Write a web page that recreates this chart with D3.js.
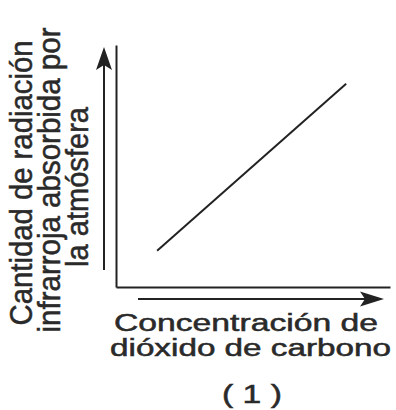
<!DOCTYPE html>
<html>
<head>
<meta charset="utf-8">
<script src="https://cdn.jsdelivr.net/npm/d3@7"></script>
<style>
  body { margin: 0; background: #fff; }
  text { font-family: "Liberation Sans", Arial, sans-serif; fill: #2a2a2a; stroke: #2a2a2a; stroke-width: 0.5; }
</style>
</head>
<body>
<script>
// datos de la grafica
const concentracion = [1.5, 8.4];   // eje x
const radiacion = [1.5, 8.4];       // eje y
const dominioX = [0, 10];
const dominioY = [0, 10];
const etiquetaY = ["Cantidad de radiación", "infrarroja absorbida por", "la atmósfera"];
const etiquetaX = ["Concentración de", "dióxido de carbono"];
const etiquetaPanel = "( 1 )";

const ancho = 396, alto = 410;
const tinta = "#222";

const svg = d3.select("body").append("svg")
    .attr("width", ancho)
    .attr("height", alto)
    .attr("xmlns", "http://www.w3.org/2000/svg");

const x = d3.scaleLinear().domain(dominioX).range([116, 390]);
const y = d3.scaleLinear().domain(dominioY).range([287, 45]);

// ejes sin marcas, solo la linea
svg.append("g")
    .attr("transform", `translate(0,${y(0)})`)
    .call(d3.axisBottom(x).tickValues([]).tickSizeOuter(0));
svg.append("g")
    .attr("transform", `translate(${x(0)},0)`)
    .call(d3.axisLeft(y).tickValues([]).tickSizeOuter(0));
svg.selectAll(".domain").attr("stroke", tinta).attr("stroke-width", 2);

// linea de datos
const puntos = concentracion.map((c, i) => [c, radiacion[i]]);
svg.append("path")
    .datum(puntos)
    .attr("fill", "none")
    .attr("stroke", tinta)
    .attr("stroke-width", 2)
    .attr("d", d3.line().x(d => x(d[0])).y(d => y(d[1])));

// flechas indicadoras
const flechaX = x(0) - 12;
svg.append("line")
    .attr("x1", flechaX).attr("x2", flechaX)
    .attr("y1", 270).attr("y2", 62)
    .attr("stroke", tinta).attr("stroke-width", 2);
svg.append("path")
    .attr("d", `M${flechaX},47 L${flechaX + 8},70 L${flechaX},65 L${flechaX - 8},70 Z`)
    .attr("fill", tinta);

const flechaY = y(0) + 12;
svg.append("line")
    .attr("x1", 138).attr("x2", 368)
    .attr("y1", flechaY).attr("y2", flechaY)
    .attr("stroke", tinta).attr("stroke-width", 2);
svg.append("path")
    .attr("d", `M384,${flechaY} L360,${flechaY - 7.5} L365,${flechaY} L360,${flechaY + 7.5} Z`)
    .attr("fill", tinta);

// titulo del eje y (rotado)
const baseY = [32, 60, 88];
const centroY = [183, 180, 187];
const largoY = [285, 305, 160];
svg.selectAll(".ety")
    .data(etiquetaY)
    .join("text")
    .attr("class", "ety")
    .attr("transform", (d, i) => `translate(${baseY[i]},${centroY[i]}) rotate(-90)`)
    .attr("text-anchor", "middle")
    .attr("font-size", 31)
    .attr("textLength", (d, i) => largoY[i])
    .attr("lengthAdjust", "spacingAndGlyphs")
    .text(d => d);

// titulo del eje x
const baseX = [331, 356];
const inicioX = [114, 110];
const largoX = [264, 281];
svg.selectAll(".etx")
    .data(etiquetaX)
    .join("text")
    .attr("class", "etx")
    .attr("x", (d, i) => inicioX[i])
    .attr("y", (d, i) => baseX[i])
    .attr("font-size", 23)
    .attr("textLength", (d, i) => largoX[i])
    .attr("lengthAdjust", "spacingAndGlyphs")
    .text(d => d);

svg.append("text")
    .attr("x", 252)
    .attr("y", 403)
    .attr("text-anchor", "middle")
    .attr("font-size", 26)
    .attr("textLength", 60)
    .attr("lengthAdjust", "spacingAndGlyphs")
    .text(etiquetaPanel);
</script>
</body>
</html>
